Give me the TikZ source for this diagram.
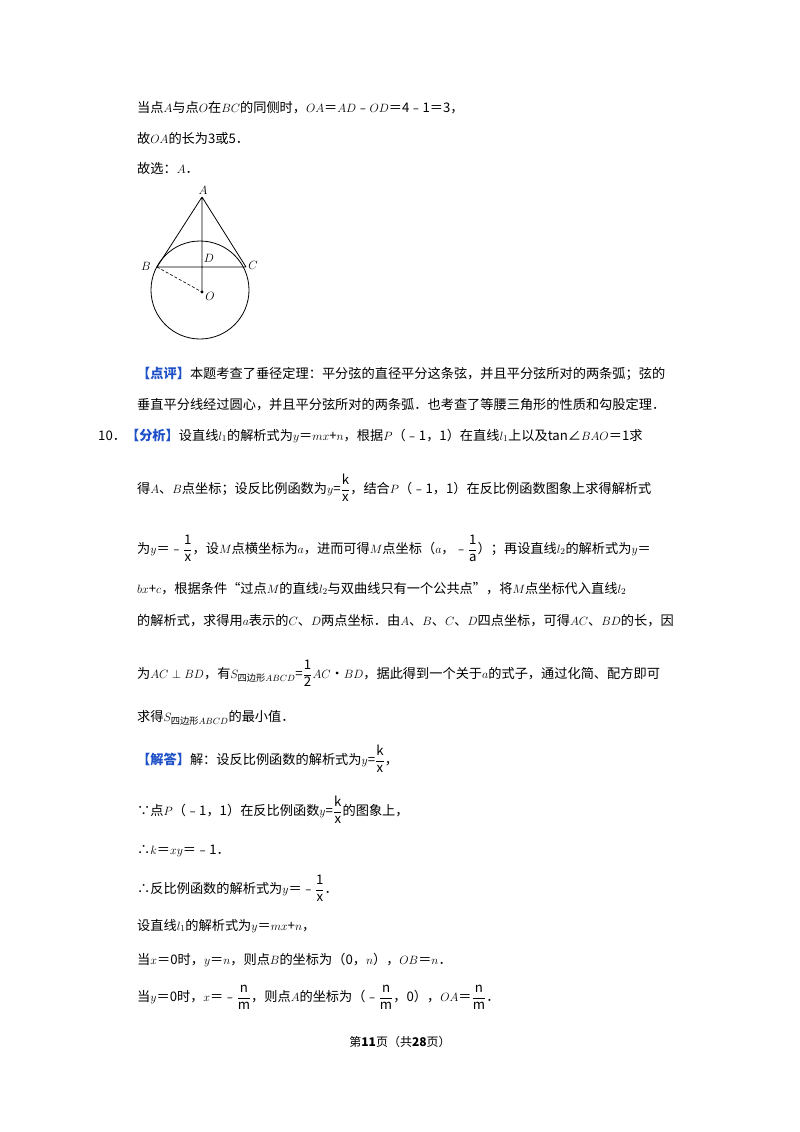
\documentclass[tikz,border=0pt]{standalone}
\usepackage{amsmath}
\usepackage{fontspec}
\setmainfont{Noto Sans CJK SC}
\definecolor{hb}{RGB}{30,80,200}
\newcommand{\hl}[1]{\textcolor{hb}{\bfseries #1}}
\newcommand{\fr}[2]{\ensuremath{\dfrac{\mathrm{#1}}{\mathrm{#2}}}}
\begin{document}
\begin{tikzpicture}[x=1pt,y=-1pt,
  ln/.style={anchor=base west,inner sep=0pt,font=\fontsize{13.2}{16}\selectfont},
  lab/.style={font=\fontsize{12}{14}\selectfont,inner sep=1pt}]
\useasboundingbox (0,0) rectangle (800,1132);
\fill[white] (0,0) rectangle (800,1132);
\node[ln] (l1) at (137,112) {当点$A$与点$O$在$BC$的同侧时，$OA$＝$AD$﹣$OD$＝4﹣1＝3，};
\node[ln] (l2) at (137,143) {故$OA$的长为3或5．};
\node[ln] (l3) at (137,173) {故选：$A$．};
% figure
\begin{scope}[line width=0.8pt]
\coordinate (O) at (200,290);
\draw (O) circle (49);
\coordinate (A) at (202,197);
\coordinate (B) at (157,267);
\coordinate (C) at (246,267);
\coordinate (D) at (202,267);
\coordinate (Op) at (202,292);
\draw (A)--(B) (A)--(C) (B)--(C) (A)--(Op);
\draw[densely dashed,line width=0.6pt] (B)--(Op);
\fill (Op) circle (1.6);
\end{scope}
\node[lab] (nA) at (203,190) {$A$};
\node[lab] (nB) at (146,266) {$B$};
\node[lab] (nC) at (253,265) {$C$};
\node[lab] (nD) at (209,258) {$D$};
\node[lab] (nO) at (210,296) {$O$};
\node[ln] (l4) at (137,378) {\hl{【点评】}本题考查了垂径定理：平分弦的直径平分这条弦，并且平分弦所对的两条弧；弦的};
\node[ln] (l5) at (137,409) {垂直平分线经过圆心，并且平分弦所对的两条弧．也考查了等腰三角形的性质和勾股定理．};
\node[ln] (l6) at (98,440) {10．\hl{【分析】}设直线$l_1$的解析式为$y$＝$mx$+$n$，根据$P$（﹣1，1）在直线$l_1$上以及tan∠$BAO$＝1求};
\node[ln] (l7) at (137,493) {得$A$、$B$点坐标；设反比例函数为$y$=\fr{k}{x}，结合$P$（﹣1，1）在反比例函数图象上求得解析式};
\node[ln] (l8) at (137,553) {为$y$＝﹣\fr{1}{x}，设$M$点横坐标为$a$，进而可得$M$点坐标（$a$，﹣\fr{1}{a}）；再设直线$l_2$的解析式为$y$＝};
\node[ln] (l9) at (137,593) {$bx$+$c$，根据条件“过点$M$的直线$l_2$与双曲线只有一个公共点”，将$M$点坐标代入直线$l_2$};
\node[ln] (l10) at (137,625) {的解析式，求得用$a$表示的$C$、$D$两点坐标．由$A$、$B$、$C$、$D$四点坐标，可得$AC$、$BD$的长，因};
\node[ln] (l11) at (137,678) {为$AC\perp BD$，有$S_{\text{四边形}ABCD}$=\fr{1}{2}$AC$•$BD$，据此得到一个关于$a$的式子，通过化简、配方即可};
\node[ln] (l12) at (137,721) {求得$S_{\text{四边形}ABCD}$的最小值．};
\node[ln] (l13) at (137,764) {\hl{【解答】}解：设反比例函数的解析式为$y$=\fr{k}{x}，};
\node[ln] (l14) at (137,815) {∵点$P$（﹣1，1）在反比例函数$y$=\fr{k}{x}的图象上，};
\node[ln] (l15) at (137,854) {∴$k$＝$xy$＝﹣1．};
\node[ln] (l16) at (137,893) {∴反比例函数的解析式为$y$＝﹣\fr{1}{x}．};
\node[ln] (l17) at (137,930) {设直线$l_1$的解析式为$y$＝$mx$+$n$，};
\node[ln] (l18) at (137,964) {当$x$＝0时，$y$＝$n$，则点$B$的坐标为（0，$n$），$OB$＝$n$．};
\node[ln] (l19) at (137,1001) {当$y$＝0时，$x$＝﹣\fr{n}{m}，则点$A$的坐标为（﹣\fr{n}{m}，0），$OA$＝\fr{n}{m}．};
\node[anchor=base,inner sep=0pt,font=\fontsize{12}{14}\selectfont] (ft) at (400,1046) {第\textbf{11}页（共\textbf{28}页）};
\end{tikzpicture}
\end{document}
